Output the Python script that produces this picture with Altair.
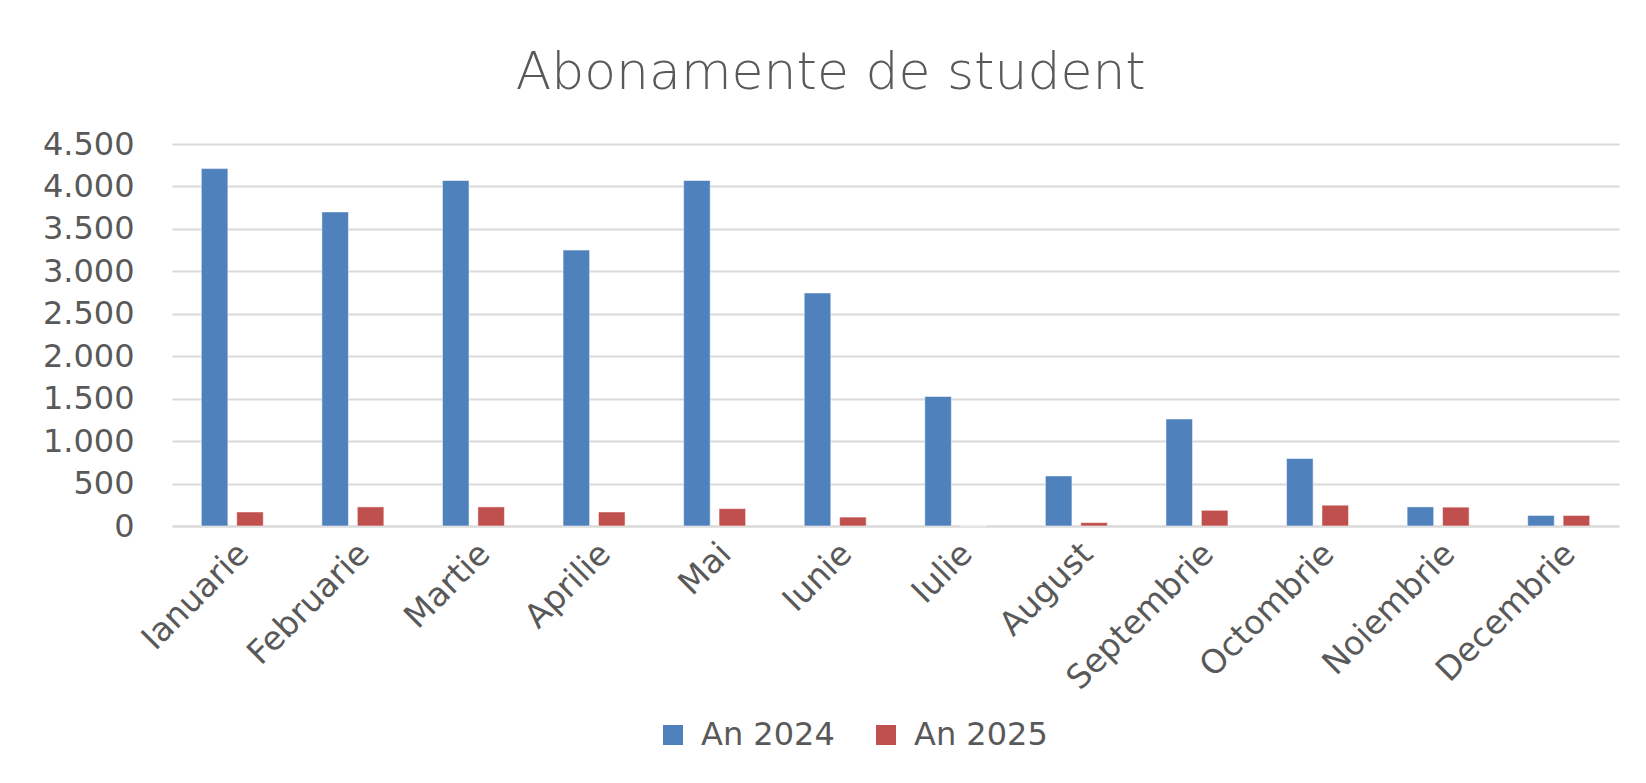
import altair as alt
import pandas as pd

months = ["Ianuarie", "Februarie", "Martie", "Aprilie", "Mai", "Iunie",
          "Iulie", "August", "Septembrie", "Octombrie", "Noiembrie", "Decembrie"]
an_2024 = [4210, 3700, 4070, 3250, 4070, 2745, 1525, 590, 1260, 795, 225, 124]
an_2025 = [165, 225, 225, 165, 205, 105, 0, 40, 185, 245, 222, 124]
series = ["An 2024", "An 2025"]
colors = ["#4F81BD", "#C0504D"]
y_ticks = [0, 500, 1000, 1500, 2000, 2500, 3000, 3500, 4000, 4500]

rows = []
for m, a, b in zip(months, an_2024, an_2025):
    rows.append({"Luna": m, "Serie": series[0], "Valoare": a})
    rows.append({"Luna": m, "Serie": series[1], "Valoare": b})
df = pd.DataFrame(rows)

FONT = "DejaVu Sans"
GRAY = "#595959"

chart = alt.Chart(df).mark_bar(stroke="white", strokeOpacity=0.5, strokeWidth=1).encode(
    x=alt.X("Luna:N", sort=months, title=None,
            scale=alt.Scale(paddingInner=0.486, paddingOuter=0.243),
            axis=alt.Axis(labelAngle=-45, labelAlign="right", labelBaseline="top",
                          labelPadding=11, labelFontSize=33, labelFont=FONT,
                          labelColor=GRAY, ticks=False, domainColor="#D9D9D9",
                          domainWidth=2, grid=False, labelOverlap=False,
                          labelLimit=0)),
    xOffset=alt.XOffset("Serie:N", sort=series, scale=alt.Scale(paddingInner=0.25)),
    y=alt.Y("Valoare:Q", title=None,
            scale=alt.Scale(domain=[0, 4500], nice=False),
            axis=alt.Axis(values=y_ticks, ticks=False, domain=False,
                          gridColor="#D9D9D9", gridWidth=2,
                          labelFontSize=32, labelFont=FONT, labelColor=GRAY,
                          labelPadding=38,
                          labelExpr="replace(format(datum.value, ','), ',', '.')")),
    color=alt.Color("Serie:N", sort=series,
                    scale=alt.Scale(domain=series, range=colors),
                    legend=alt.Legend(orient="none", legendX=485, legendY=575,
                                      direction="horizontal", title=None,
                                      symbolType="square",
                                      symbolSize=400, symbolStrokeWidth=0,
                                      labelFontSize=32, labelFont=FONT, labelColor=GRAY,
                                      columnPadding=35, labelOffset=12)),
).properties(
    width=1447,
    height=382,
    background="white",
    title=alt.TitleParams("Abonamente de student", fontSize=52, font=FONT,
                          color=GRAY, fontWeight=300, anchor="middle",
                          frame="bounds", offset=28),
    padding={"left": 34, "top": 39, "right": 10, "bottom": 5},
).configure_view(strokeWidth=0)

chart.save("out.html", embed_options={"renderer": "svg", "actions": False})
